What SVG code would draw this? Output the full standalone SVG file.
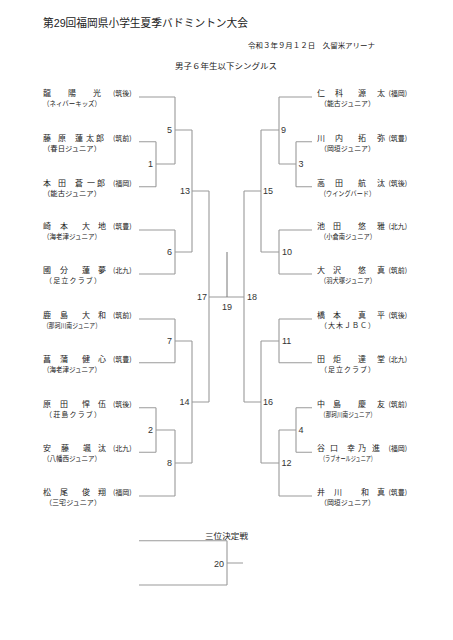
<svg xmlns="http://www.w3.org/2000/svg" width="453" height="640" viewBox="0 0 453 640">
<style>
.ln{stroke:#9a9a9a;stroke-width:1.1;fill:none}
.dk{stroke:#777;stroke-width:1;fill:none}
text{font-family:"Liberation Sans","Noto Sans CJK JP",sans-serif;fill:#222}
.nm{font-family:"Noto Sans CJK JP",sans-serif;font-size:8px}
.af{font-family:"Noto Sans CJK JP",sans-serif;font-size:7px}
.tm{font-family:"Noto Sans CJK JP",sans-serif;font-size:7px}
.num{font-size:9px;fill:#333}
.e{text-anchor:end}
.m{text-anchor:middle}
</style>
<rect width="453" height="640" fill="#fff"/>
<g id="header">
<text x="43" y="26.5" font-size="11" textLength="205" lengthAdjust="spacingAndGlyphs">第29回福岡県小学生夏季バドミントン大会</text>
<text x="248" y="48" class="tm" font-size="7.5" textLength="127" lengthAdjust="spacingAndGlyphs">令和３年９月１２日　久留米アリーナ</text>
<text x="175" y="69" class="nm" font-size="8.5" textLength="102" lengthAdjust="spacingAndGlyphs">男子６年生以下シングルス</text>
</g>
<g id="connectors">
<path class="ln" d="M139 97H175 M139 141.7H156 M139 186.7H156 M156 141.7V186.7 M156 164H175 M175 97V164 M175 130H192 M139 230H175 M139 274H175 M175 230V274 M175 252H192 M192 130V252 M192 191H209 M139 319H175 M139 362.7H175 M175 319V362.7 M175 341H192 M139 407.7H156 M139 452.3H156 M156 407.7V452.3 M156 430H175 M139 496H175 M175 430V496 M175 463H192 M192 341V463 M192 402H209 M209 191V402 M209 297H244"/>
<path class="ln" d="M279 97H312 M296 141.7H312 M296 186.7H312 M296 141.7V186.7 M279 164H296 M279 97V164 M261 130H279 M279 230H312 M279 274H312 M279 230V274 M261 252H279 M261 130V252 M244 191H261 M279 319H312 M279 362.7H312 M279 319V362.7 M261 341H279 M296 407.7H312 M296 452.3H312 M296 407.7V452.3 M279 430H296 M279 496H312 M279 430V496 M261 463H279 M261 341V463 M244 402H261 M244 191V402"/>
<path class="dk" d="M227 252V297"/>
<path class="ln" d="M139 540.7H227 M139 585H227 M227 540.7V585 M227 563H243"/>
</g>
<g id="players-left">
<g id="L1"><text class="nm" x="43 68 93" y="96">龍陽光</text><text class="af" x="113" y="96">(筑後)</text><text class="tm" x="43" y="106" textLength="58" lengthAdjust="spacingAndGlyphs">（ネィバーキッズ）</text></g>
<g id="L2"><text class="nm" x="43 58 75 86 96" y="140.7">藤原蓮太郎</text><text class="af" x="113" y="140.7">(筑前)</text><text class="tm" x="43" y="150.7" textLength="58" lengthAdjust="spacingAndGlyphs">（春日ジュニア）</text></g>
<g id="L3"><text class="nm" x="43 58 75 87 97" y="185.7">本田蒼一郎</text><text class="af" x="113" y="185.7">(福岡)</text><text class="tm" x="43" y="195.7" textLength="58" lengthAdjust="spacingAndGlyphs">（能古ジュニア）</text></g>
<g id="L4"><text class="nm" x="43 60 82 98" y="229">崎本大地</text><text class="af" x="113" y="229">(筑豊)</text><text class="tm" x="43" y="239" textLength="58" lengthAdjust="spacingAndGlyphs">（海老津ジュニア）</text></g>
<g id="L5"><text class="nm" x="43 60 82 98" y="273">國分蓮夢</text><text class="af" x="113" y="273">(北九)</text><text class="tm" x="45" y="283" textLength="56" lengthAdjust="spacing">（足立クラブ）</text></g>
<g id="L6"><text class="nm" x="43 60 82 98" y="318">鹿島大和</text><text class="af" x="113" y="318">(筑前)</text><text class="tm" x="43" y="328" textLength="58" lengthAdjust="spacingAndGlyphs">（那珂川南ジュニア）</text></g>
<g id="L7"><text class="nm" x="43 60 82 98" y="361.7">菖蒲健心</text><text class="af" x="113" y="361.7">(筑豊)</text><text class="tm" x="43" y="371.7" textLength="58" lengthAdjust="spacingAndGlyphs">（海老津ジュニア）</text></g>
<g id="L8"><text class="nm" x="43 60 82 98" y="406.7">原田悍伍</text><text class="af" x="113" y="406.7">(筑後)</text><text class="tm" x="45" y="416.7" textLength="56" lengthAdjust="spacing">（荘島クラブ）</text></g>
<g id="L9"><text class="nm" x="43 61 83 98" y="451.3">安藤颯汰</text><text class="af" x="113" y="451.3">(北九)</text><text class="tm" x="43" y="461.3" textLength="58" lengthAdjust="spacingAndGlyphs">（八幡西ジュニア）</text></g>
<g id="L10"><text class="nm" x="43 60 82 98" y="495">松尾俊翔</text><text class="af" x="113" y="495">(福岡)</text><text class="tm" x="45" y="505" textLength="56" lengthAdjust="spacingAndGlyphs">（三宅ジュニア）</text></g>
</g>
<g id="players-right">
<g id="R1"><text class="nm" x="317 335 358 377" y="96">仁科源太</text><text class="af" x="388.5" y="96">(福岡)</text><text class="tm" x="320" y="106" textLength="55" lengthAdjust="spacingAndGlyphs">（能古ジュニア）</text></g>
<g id="R2"><text class="nm" x="317 335 358 377" y="140.7">川内拓弥</text><text class="af" x="388.5" y="140.7">(筑豊)</text><text class="tm" x="320" y="150.7" textLength="55" lengthAdjust="spacingAndGlyphs">（岡垣ジュニア）</text></g>
<g id="R3"><text class="nm" x="317 335 358 377" y="185.7">高田航汰</text><text class="af" x="388.5" y="185.7">(筑後)</text><text class="tm" x="320" y="195.7" textLength="55" lengthAdjust="spacingAndGlyphs">（ウイングバード）</text></g>
<g id="R4"><text class="nm" x="317 333 358 377" y="229">池田悠雅</text><text class="af" x="388.5" y="229">(北九)</text><text class="tm" x="320" y="239" textLength="56" lengthAdjust="spacingAndGlyphs">（小倉南ジュニア）</text></g>
<g id="R5"><text class="nm" x="317 333 358 377" y="273">大沢悠真</text><text class="af" x="388.5" y="273">(筑前)</text><text class="tm" x="320" y="283" textLength="56" lengthAdjust="spacingAndGlyphs">（羽犬塚ジュニア）</text></g>
<g id="R6"><text class="nm" x="317 333 358 377" y="318">橋本真平</text><text class="af" x="388.5" y="318">(筑後)</text><text class="tm" x="320" y="328" textLength="55" lengthAdjust="spacing">（大木ＪＢＣ）</text></g>
<g id="R7"><text class="nm" x="317 333 358 377" y="361.7">田炬達堂</text><text class="af" x="388.5" y="361.7">(北九)</text><text class="tm" x="320" y="371.7" textLength="55" lengthAdjust="spacing">（足立クラブ）</text></g>
<g id="R8"><text class="nm" x="317 333 358 377" y="406.7">中島慶友</text><text class="af" x="388.5" y="406.7">(筑前)</text><text class="tm" x="320" y="416.7" textLength="56" lengthAdjust="spacingAndGlyphs">（那珂川南ジュニア）</text></g>
<g id="R9"><text class="nm" x="317 330 347 358 372" y="451.3">谷口幸乃進</text><text class="af" x="388.5" y="451.3">(福岡)</text><text class="tm" x="320" y="461.3" textLength="56" lengthAdjust="spacingAndGlyphs">（ラブオールジュニア）</text></g>
<g id="R10"><text class="nm" x="317 334 361 377" y="495">井川和真</text><text class="af" x="388.5" y="495">(筑豊)</text><text class="tm" x="320" y="505" textLength="55" lengthAdjust="spacingAndGlyphs">（岡垣ジュニア）</text></g>
</g>
<g id="matches">
<text class="num e" x="153" y="167.2">1</text>
<text class="num e" x="153" y="433.2">2</text>
<text class="num" x="298.5" y="167.2">3</text>
<text class="num" x="298.5" y="433.2">4</text>
<text class="num e" x="172" y="133.2">5</text>
<text class="num e" x="172" y="255.2">6</text>
<text class="num e" x="172" y="344.2">7</text>
<text class="num e" x="172" y="466.2">8</text>
<text class="num" x="281" y="133.2">9</text>
<text class="num" x="282" y="255.2">10</text>
<text class="num" x="282" y="344.2">11</text>
<text class="num" x="281.5" y="466.2">12</text>
<text class="num e" x="190" y="194.2">13</text>
<text class="num e" x="189.5" y="405.2">14</text>
<text class="num" x="263" y="194.2">15</text>
<text class="num" x="263" y="405.2">16</text>
<text class="num e" x="207" y="300.2">17</text>
<text class="num" x="247" y="300.2">18</text>
<text class="num m" x="227" y="309.5">19</text>
<text class="num e" x="224" y="566.5">20</text>
<text class="nm" x="205" y="539" font-size="8.5" textLength="43" lengthAdjust="spacingAndGlyphs">三位決定戦</text>
</g>
</svg>
